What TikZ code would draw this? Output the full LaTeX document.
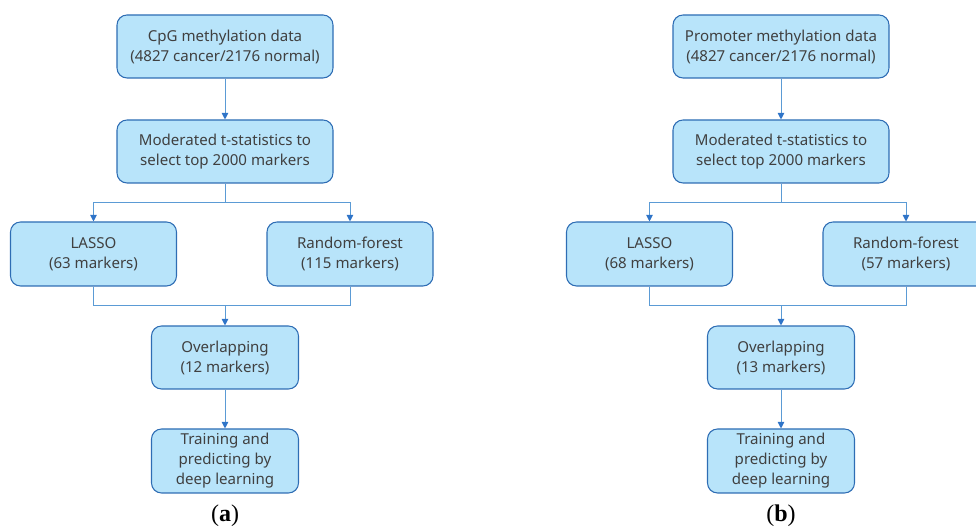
\documentclass[tikz,border=0pt]{standalone}
\usepackage{fontspec}
\setmainfont{Liberation Serif}
\newfontfamily\boxfont{Noto Sans}
\usetikzlibrary{arrows.meta}
\definecolor{boxfill}{HTML}{B8E4FA}
\definecolor{boxline}{HTML}{2E6DB4}
\definecolor{conn}{HTML}{5B9BD5}
\definecolor{arrtip}{HTML}{2F74C8}
\definecolor{txt}{HTML}{404040}
\begin{document}
\begin{tikzpicture}[x=0.75pt,y=-0.75pt,
  flowbox/.style={draw=boxline,fill=boxfill,rounded corners=7.5pt,line width=0.8pt,
    align=center,font=\boxfont\fontsize{11.3}{15}\selectfont,text=txt,inner sep=0pt},
  conline/.style={draw=conn,line width=0.75pt},
  arr/.style={conline,-{Triangle[length=5pt,width=5pt,color=arrtip]}},
  captext/.style={font=\fontsize{18}{20}\selectfont,text=black}]
\useasboundingbox (0,0) rectangle (976,530);
\foreach \dx/\p/\ttl/\la/\rf/\ov in {0/a/CpG/63/115/12, 556/b/Promoter/68/57/13}{
  \begin{scope}[xshift=\dx*0.75pt]
  \node[flowbox,minimum width=216*0.75pt,minimum height=63*0.75pt] (top\p) at (225,46.5) {\ttl{} methylation data\\(4827 cancer/2176 normal)};
  \node[flowbox,minimum width=216*0.75pt,minimum height=63*0.75pt] (mod\p) at (225,151.5) {Moderated t-statistics to\\select top 2000 markers};
  \node[flowbox,minimum width=166*0.75pt,minimum height=64*0.75pt] (las\p) at (93.5,254) {LASSO\\(\la{} markers)};
  \node[flowbox,minimum width=166*0.75pt,minimum height=64*0.75pt] (rf\p) at (350,254) {Random-forest\\(\rf{} markers)};
  \node[flowbox,minimum width=147*0.75pt,minimum height=63*0.75pt] (ov\p) at (225,357.5) {Overlapping\\(\ov{} markers)};
  \node[flowbox,minimum width=147*0.75pt,minimum height=64*0.75pt] (tr\p) at (225,461) {Training and\\predicting by\\deep learning};
  \node[captext] (cap\p) at (225,516) {(\textbf{\p})};
  \coordinate (sp\p) at (225,203);
  \coordinate (mg\p) at (225,306);
  \draw[arr] (top\p) -- (mod\p);
  \draw[conline] (mod\p) -- (sp\p);
  \draw[arr] (sp\p) -| (las\p);
  \draw[arr] (sp\p) -| (rf\p);
  \draw[conline] (las\p) |- (mg\p);
  \draw[conline] (rf\p) |- (mg\p);
  \draw[arr] (mg\p) -- (ov\p);
  \draw[arr] (ov\p) -- (tr\p);
  \end{scope}
}
\end{tikzpicture}
\end{document}
